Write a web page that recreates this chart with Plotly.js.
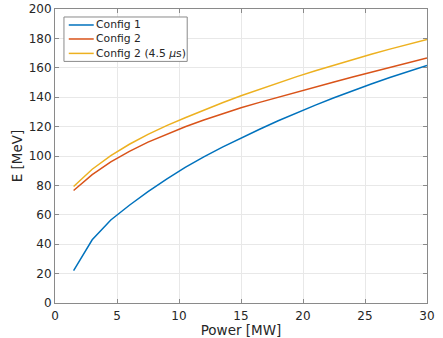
<!DOCTYPE html>
<html>
<head>
<meta charset="utf-8">
<script src="https://cdn.plot.ly/plotly-3.0.1.min.js"></script>
<style>html,body{margin:0;padding:0;background:#fff;}#chart{width:443px;height:338px;}</style>
</head>
<body>
<div id="chart"></div>
<script>
var power = [1.5, 3, 4.5, 6, 7.5, 9, 10.5, 12, 13.5, 15, 16.5, 18, 19.5, 21, 22.5, 24, 25.5, 27, 28.5, 30];
var config1 = [22, 43, 56.5, 66.5, 75.7, 84.3, 92.2, 99.4, 106, 112.2, 118.2, 124, 129.4, 134.6, 139.6, 144.4, 149, 153.4, 157.6, 161.6];
var config2 = [76.5, 87.3, 96, 103.2, 109.4, 114.9, 119.9, 124.5, 128.8, 132.8, 136.5, 140.1, 143.6, 147, 150.4, 153.8, 157.1, 160.3, 163.5, 166.6];
var config2b = [79.3, 91, 100.3, 108, 114.7, 120.7, 126, 131.2, 136.2, 141, 145.5, 149.8, 154, 158, 161.9, 165.7, 169.2, 172.7, 176, 179.2];
var names = ['Config 1', 'Config 2', 'Config 2 (4.5 <i>μ</i>s)'];
var colors = ['#0072BD', '#D95319', '#EDB120'];
var xTicks = [0, 5, 10, 15, 20, 25, 30];
var yTicks = [0, 20, 40, 60, 80, 100, 120, 140, 160, 180, 200];

var series = [config1, config2, config2b];
var data = series.map(function (s, i) {
  return {x: power, y: s, mode: 'lines', name: names[i], line: {color: colors[i], width: 1.5}, showlegend: false};
});

var font = 'DejaVu Sans, sans-serif';
var frame = '#8a8a8a';
var axisCommon = {
  showline: true, mirror: 'ticks', linecolor: frame, linewidth: 1,
  ticks: 'inside', ticklen: 4, tickcolor: frame, tickwidth: 1,
  showgrid: true, gridcolor: '#e8e8e8', gridwidth: 1, zeroline: false,
  tickfont: {family: font, size: 12, color: '#262626'}
};

// Legend drawn as a box with line samples and text (MATLAB-style compact legend)
var legX0 = 0.0241, legX1 = 0.3554, legY0 = 0.8218, legY1 = 0.9728;
var sampleX0 = 0.0370, sampleX1 = 0.1041, textX = 0.1073;
var rowY = [0.9456, 0.8980, 0.8490];
var shapes = [{type: 'rect', xref: 'paper', yref: 'paper', x0: legX0, x1: legX1, y0: legY0, y1: legY1,
  line: {color: frame, width: 1}, fillcolor: '#ffffff', layer: 'above'}];
var annotations = [];
names.forEach(function (n, i) {
  shapes.push({type: 'line', xref: 'paper', yref: 'paper', x0: sampleX0, x1: sampleX1, y0: rowY[i], y1: rowY[i],
    line: {color: colors[i], width: 1.5}, layer: 'above'});
  annotations.push({xref: 'paper', yref: 'paper', x: textX, y: rowY[i], xanchor: 'left', yanchor: 'middle',
    text: n, showarrow: false, font: {family: font, size: 10.8, color: '#262626'}, borderpad: 0});
});

var layout = {
  width: 443, height: 338,
  margin: {l: 54.5, r: 15.7, t: 9.3, b: 34.7},
  paper_bgcolor: '#fff', plot_bgcolor: '#fff',
  font: {family: font, color: '#262626'},
  xaxis: Object.assign({}, axisCommon, {
    range: [0, 30], tickvals: xTicks, ticktext: xTicks.map(String), ticklabelstandoff: 2,
    title: {text: 'Power [MW]', font: {family: font, size: 13.5, color: '#262626'}, standoff: 8}
  }),
  yaxis: Object.assign({}, axisCommon, {
    range: [0, 200], tickvals: yTicks, ticktext: yTicks.map(String),
    title: {text: 'E [MeV]', font: {family: font, size: 13.5, color: '#262626'}, standoff: 2}
  }),
  shapes: shapes,
  annotations: annotations,
  showlegend: false
};
Plotly.newPlot('chart', data, layout, {staticPlot: true, displayModeBar: false});
</script>
</body>
</html>
